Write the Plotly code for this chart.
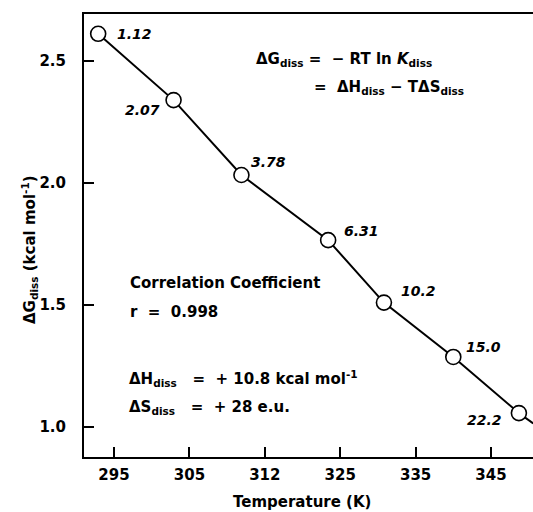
import plotly.graph_objects as go

# ---- data ----
temperature_K = [292.9, 302.9, 311.9, 323.4, 330.8, 340.0, 348.7]
delta_G_diss = [2.612, 2.340, 2.033, 1.766, 1.510, 1.287, 1.057]
K_diss_labels = ["1.12", "2.07", "3.78", "6.31", "10.2", "15.0", "22.2"]
# continuation of the drawn line past the last point (to the frame edge)
line_tail_T = [348.7, 350.6]
line_tail_G = [1.057, 1.015]

x_tickvals = [295, 305, 315, 325, 335, 345]
x_ticktext = ["295", "305", "312", "325", "335", "345"]
y_tickvals = [1.0, 1.5, 2.0, 2.5]
y_ticktext = ["1.0", "1.5", "2.0", "2.5"]

# ---- layout geometry (pixels) ----
W, H = 533, 512
L, R, T, B = 84, 0, 14, 55
XR = [291.02, 350.57]
YR = [0.877, 2.693]


def paper(xp, yp):
    """convert a pixel position to paper coordinates"""
    return (xp - L) / (W - L - R), ((H - B) - yp) / (H - B - T)


FONT = "DejaVu Sans"
NB = "\u00a0"
FS = 15

fig = go.Figure()
fig.add_trace(go.Scatter(x=line_tail_T, y=line_tail_G, mode="lines",
                         line=dict(color="black", width=2), showlegend=False,
                         hoverinfo="skip"))
fig.add_trace(go.Scatter(
    x=temperature_K, y=delta_G_diss, mode="lines+markers",
    line=dict(color="black", width=2),
    marker=dict(symbol="circle", size=15, color="white",
                line=dict(color="black", width=1.6)),
    showlegend=False))

# point labels (K_diss values)
offsets = [
    ("left", 17, 0),
    ("right", -12, -10),
    ("left", 8, 13),
    ("left", 14, 9),
    ("left", 15, 12),
    ("left", 11, 10),
    ("right", -15, -7),
]
annotations = []
for xv, yv, lab, (anc, xs, ys) in zip(temperature_K, delta_G_diss, K_diss_labels, offsets):
    annotations.append(dict(x=xv, y=yv, xref="x", yref="y", text="<i>" + lab + "</i>",
                            showarrow=False, xanchor=anc, yanchor="middle",
                            xshift=xs, yshift=ys,
                            font=dict(family=FONT, size=FS - 1, color="black", weight="bold")))


def add_text(xp, yp, text, anchor="left", size=FS, angle=0):
    x, y = paper(xp, yp)
    annotations.append(dict(x=x, y=y, xref="paper", yref="paper", text=text, showarrow=False,
                            xanchor=anchor, yanchor="middle", textangle=angle,
                            font=dict(family=FONT, size=size, color="black", weight="bold")))


add_text(254, 59, "ΔG<sub>diss</sub>" + NB + "=" + NB * 2 + "−" + NB + "RT" + NB + "ln" + NB + "<i>K</i><sub>diss</sub>")
add_text(312, 87, "=" + NB * 2 + "ΔH<sub>diss</sub>" + NB + "−" + NB + "TΔS<sub>diss</sub>")
add_text(128, 283, "Correlation" + NB + "Coefficient")
add_text(128, 312, "r" + NB * 2 + "=" + NB * 2 + "0.998")
add_text(127, 378, "ΔH<sub>diss</sub>" + NB * 3 + "=" + NB * 2 + "+" + NB + "10.8" + NB + "kcal" + NB + "mol<sup>-1</sup>")
add_text(127, 407, "ΔS<sub>diss</sub>" + NB * 3 + "=" + NB * 2 + "+" + NB + "28" + NB + "e.u.")

# axis titles
add_text(302, 502, "Temperature" + NB + "(K)", anchor="center")
add_text(29, 250, "ΔG<sub>diss</sub>" + NB + "(kcal" + NB + "mol<sup>-1</sup>)", anchor="center", angle=-90)

axis_common = dict(showgrid=False, zeroline=False, showline=True, linecolor="black",
                   linewidth=2, ticks="inside", ticklen=10, tickwidth=2, tickcolor="black",
                   tickfont=dict(family=FONT, size=FS, color="black", weight="bold"))

fig.update_layout(
    width=W, height=H,
    margin=dict(l=L, r=R, t=T, b=B, pad=0),
    paper_bgcolor="white", plot_bgcolor="white",
    xaxis=dict(range=XR, tickvals=x_tickvals, ticktext=x_ticktext, mirror=True,
               ticklabelstandoff=3, **axis_common),
    yaxis=dict(range=YR, tickvals=y_tickvals, ticktext=y_ticktext,
               ticklabelstandoff=13, **axis_common),
    annotations=annotations,
)

fig.write_html("out.html", config={"displayModeBar": False},
               post_script="document.body.style.margin='0';document.body.style.overflow='hidden';")
